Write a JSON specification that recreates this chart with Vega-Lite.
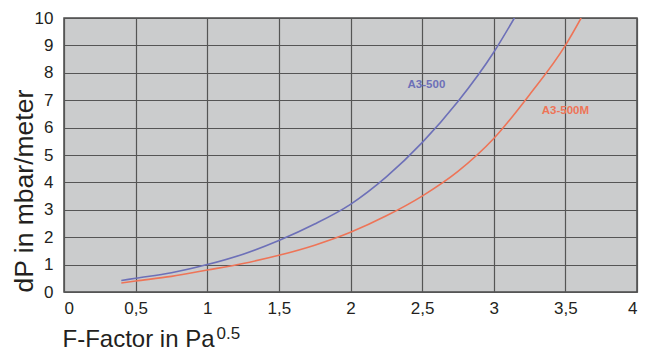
{
  "$schema": "https://vega.github.io/schema/vega-lite/v6.json",
  "width": 573,
  "height": 274,
  "autosize": {"type": "none"},
  "padding": {"left": 64, "top": 18, "right": 12, "bottom": 59},
  "background": "white",
  "config": {
    "view": {"fill": "#cbcccd", "stroke": "#4a4a4a", "strokeWidth": 1.5},
    "font": "Liberation Sans",
    "axis": {
      "grid": true,
      "gridColor": "#555555",
      "gridWidth": 1.2,
      "gridOpacity": 1,
      "ticks": false,
      "domain": false,
      "labelOverlap": false,
      "labelColor": "#231f20",
      "labelFont": "Liberation Sans",
      "labelFontSize": 17,
      "titleFont": "Liberation Sans",
      "titleFontWeight": "normal",
      "titleColor": "#231f20"
    }
  },
  "datasets": {
    "curves": [
      {"series": "A3-500", "f": 0.4, "dp": 0.42},
      {"series": "A3-500", "f": 0.5, "dp": 0.5},
      {"series": "A3-500", "f": 0.75, "dp": 0.7},
      {"series": "A3-500", "f": 1.0, "dp": 1.0},
      {"series": "A3-500", "f": 1.25, "dp": 1.38},
      {"series": "A3-500", "f": 1.5, "dp": 1.88},
      {"series": "A3-500", "f": 1.75, "dp": 2.48},
      {"series": "A3-500", "f": 2.0, "dp": 3.2},
      {"series": "A3-500", "f": 2.25, "dp": 4.2},
      {"series": "A3-500", "f": 2.5, "dp": 5.45},
      {"series": "A3-500", "f": 2.75, "dp": 6.95},
      {"series": "A3-500", "f": 3.0, "dp": 8.75},
      {"series": "A3-500", "f": 3.144, "dp": 10.0},
      {"series": "A3-500M", "f": 0.4, "dp": 0.33},
      {"series": "A3-500M", "f": 0.5, "dp": 0.4},
      {"series": "A3-500M", "f": 0.75, "dp": 0.57},
      {"series": "A3-500M", "f": 1.0, "dp": 0.8},
      {"series": "A3-500M", "f": 1.25, "dp": 1.04},
      {"series": "A3-500M", "f": 1.5, "dp": 1.34},
      {"series": "A3-500M", "f": 1.75, "dp": 1.71},
      {"series": "A3-500M", "f": 2.0, "dp": 2.18},
      {"series": "A3-500M", "f": 2.25, "dp": 2.78},
      {"series": "A3-500M", "f": 2.5, "dp": 3.5},
      {"series": "A3-500M", "f": 2.75, "dp": 4.4},
      {"series": "A3-500M", "f": 3.0, "dp": 5.6},
      {"series": "A3-500M", "f": 3.25, "dp": 7.2},
      {"series": "A3-500M", "f": 3.5, "dp": 9.0},
      {"series": "A3-500M", "f": 3.61, "dp": 10.0}
    ],
    "labels": [
      {"series": "A3-500", "f": 2.53, "dp": 7.55},
      {"series": "A3-500M", "f": 3.5, "dp": 6.6}
    ],
    "superscript": [
      {"sup": "0.5", "f": 1.065, "dp": -1.7}
    ]
  },
  "encoding": {
    "x": {
      "field": "f", "type": "quantitative",
      "scale": {"domain": [0, 4], "nice": false},
      "axis": {
        "values": [0, 0.5, 1, 1.5, 2, 2.5, 3, 3.5, 4],
        "labelExpr": "replace(format(datum.value, ''), '.', ',')",
        "labelPadding": 8,
        "title": "F-Factor in Pa",
        "titleFontSize": 24,
        "titleX": -2,
        "titleY": 54.7,
        "titleAlign": "left",
        "titleAnchor": "start",
        "titleBaseline": "alphabetic"
      }
    },
    "y": {
      "field": "dp", "type": "quantitative",
      "scale": {"domain": [0, 10], "nice": false},
      "axis": {
        "values": [0, 1, 2, 3, 4, 5, 6, 7, 8, 9, 10],
        "labelPadding": 11,
        "title": "dP in mbar/meter",
        "titleFontSize": 26.5,
        "titleAngle": -90,
        "titleX": -32,
        "titleY": 274,
        "titleAlign": "left",
        "titleAnchor": "start",
        "titleBaseline": "alphabetic"
      }
    }
  },
  "layer": [
    {
      "data": {"name": "curves"},
      "mark": {"type": "line", "interpolate": "monotone", "strokeWidth": 1.6, "clip": true},
      "encoding": {
        "color": {
          "field": "series", "type": "nominal",
          "scale": {"domain": ["A3-500", "A3-500M"], "range": ["#6d70b8", "#ee7457"]},
          "legend": null
        }
      }
    },
    {
      "data": {"name": "labels"},
      "mark": {"type": "text", "fontSize": 11.5, "fontWeight": "bold", "font": "Liberation Sans"},
      "encoding": {
        "text": {"field": "series"},
        "color": {"field": "series", "type": "nominal", "legend": null}
      }
    },
    {
      "data": {"name": "superscript"},
      "mark": {"type": "text", "fontSize": 17, "align": "left", "baseline": "alphabetic", "color": "#231f20", "font": "Liberation Sans"},
      "encoding": {
        "text": {"field": "sup"}
      }
    }
  ]
}
